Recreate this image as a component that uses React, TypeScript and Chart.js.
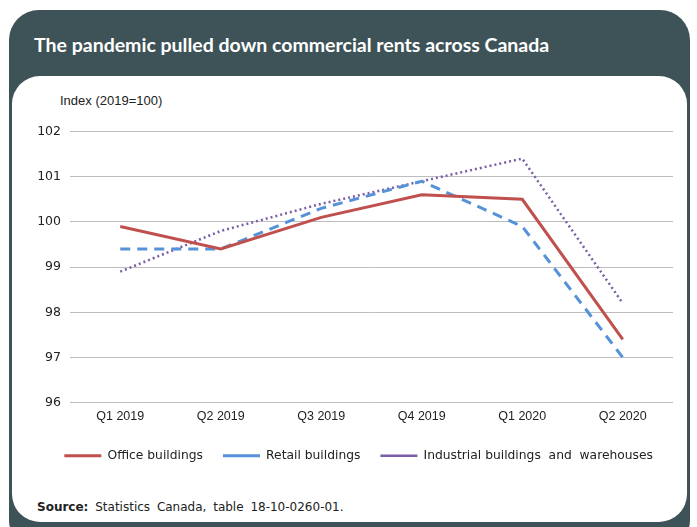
import React, { useEffect, useRef } from "react";
import { Chart, registerables } from "chart.js";

Chart.register(...registerables);

const categories = ["Q1 2019", "Q2 2019", "Q3 2019", "Q4 2019", "Q1 2020", "Q2 2020"];
const officeValues = [99.9, 99.4, 100.1, 100.6, 100.5, 97.4];
const retailValues = [99.4, 99.4, 100.3, 100.9, 99.9, 97.0];
const industrialValues = [98.9, 99.8, 100.4, 100.9, 101.4, 98.2];
const seriesNames = ["Office buildings", "Retail buildings", "Industrial buildings  and  warehouses"];
const yMin = 96;
const yMax = 102;

export default function App() {
  const canvasRef = useRef<HTMLCanvasElement | null>(null);

  useEffect(() => {
    const canvas = canvasRef.current;
    if (!canvas) return;
    const chart = new Chart(canvas, {
      type: "line",
      data: {
        labels: categories,
        datasets: [
          {
            label: seriesNames[0],
            data: officeValues,
            borderColor: "#c0504d",
            backgroundColor: "#c0504d",
            borderWidth: 3,
            pointRadius: 0,
            tension: 0,
          },
          {
            label: seriesNames[1],
            data: retailValues,
            borderColor: "#5592d8",
            backgroundColor: "#5592d8",
            borderWidth: 3,
            borderDash: [10, 7],
            pointRadius: 0,
            tension: 0,
          },
          {
            label: seriesNames[2],
            data: industrialValues,
            borderColor: "#7a5ea6",
            backgroundColor: "#7a5ea6",
            borderWidth: 2.5,
            borderDash: [2, 3],
            pointRadius: 0,
            tension: 0,
          },
        ],
      },
      options: {
        animation: false,
        responsive: false,
        maintainAspectRatio: false,
        layout: { padding: { top: 15, right: 9, left: 0, bottom: 0 } },
        plugins: {
          tooltip: { enabled: false },
          title: { display: false },
          legend: {
            display: true,
            position: "bottom",
            align: "end",
            labels: {
              usePointStyle: true,
              pointStyle: "line",
              pointStyleWidth: 37,
              boxHeight: 12,
              color: "#222",
              padding: 20,
              font: { family: "'DejaVu Sans', Verdana, sans-serif", size: 12.3 },
            },
          },
        },
        scales: {
          x: {
            offset: true,
            grid: { display: false, drawTicks: false },
            border: { display: false },
            ticks: {
              color: "#222",
              padding: 6,
              maxRotation: 0,
              font: { family: "'Liberation Sans', Arial, sans-serif", size: 12.5 },
            },
          },
          y: {
            min: yMin,
            max: yMax,
            afterFit: (scale: any) => {
              scale.width = 58;
            },
            grid: { color: "#bdbdbd", lineWidth: 1, drawTicks: false },
            border: { display: false },
            ticks: {
              stepSize: 1,
              color: "#222",
              padding: 9,
              font: { family: "'DejaVu Sans', Verdana, sans-serif", size: 12.5 },
            },
          },
        },
      },
    });
    return () => chart.destroy();
  }, []);

  return (
    <div style={{ position: "fixed", left: 0, top: 0, width: 697, height: 527, background: "#fff", overflow: "hidden" }}>
      <div
        style={{
          position: "absolute",
          left: 9,
          top: 10,
          width: 681,
          height: 540,
          background: "#3e5357",
          borderRadius: 30,
        }}
      />
      <div
        style={{
          position: "absolute",
          left: 34,
          top: 34,
          color: "#fff",
          fontFamily: "Lato, 'Open Sans', sans-serif",
          fontWeight: 700,
          fontSize: 19.5,
          whiteSpace: "nowrap",
          lineHeight: "22px",
        }}
      >
        The pandemic pulled down commercial rents across Canada
      </div>
      <div
        style={{
          position: "absolute",
          left: 12,
          top: 76,
          width: 675,
          height: 446,
          background: "#fff",
          borderRadius: 28,
        }}
      />
      <div
        style={{
          position: "absolute",
          left: 60,
          top: 93,
          color: "#222",
          fontFamily: "'Liberation Sans', Arial, sans-serif",
          fontSize: 13,
          whiteSpace: "nowrap",
        }}
      >
        Index (2019=100)
      </div>
      <canvas
        ref={canvasRef}
        width={670}
        height={357}
        style={{ position: "absolute", left: 12, top: 115, width: 670, height: 357 }}
      />
      <div
        style={{
          position: "absolute",
          left: 37,
          top: 500,
          color: "#222",
          fontFamily: "'DejaVu Sans', Verdana, sans-serif",
          fontSize: 12,
          whiteSpace: "nowrap",
          wordSpacing: 3,
        }}
      >
        <b>Source:</b> Statistics Canada, table 18-10-0260-01.
      </div>
    </div>
  );
}
